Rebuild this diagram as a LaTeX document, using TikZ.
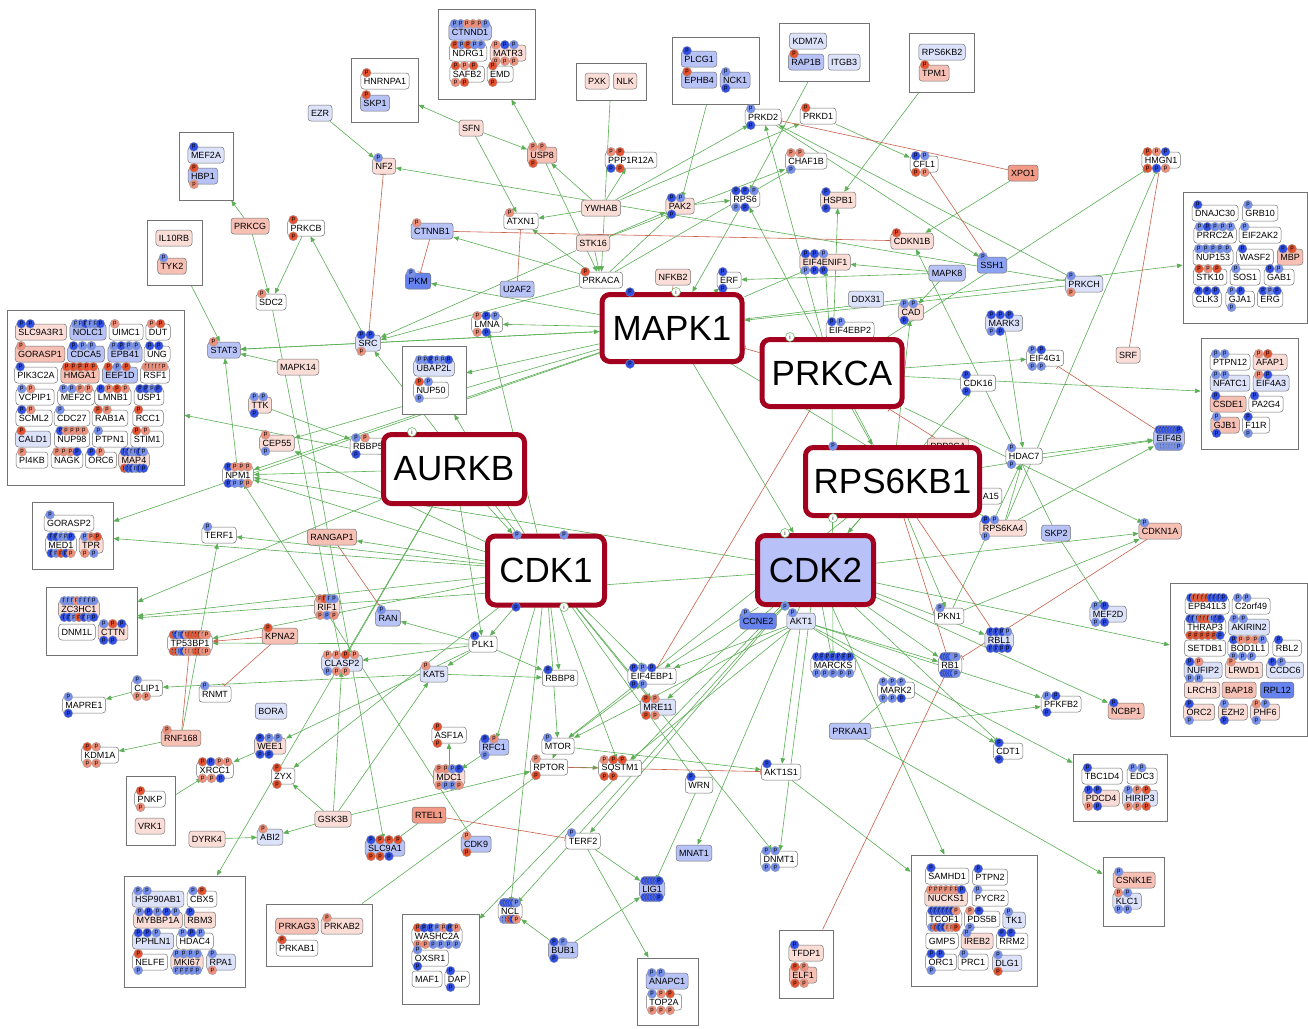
\documentclass[tikz,border=0pt]{standalone}
\usepackage{fontspec}
\setmainfont{Liberation Sans}
\usetikzlibrary{arrows.meta,backgrounds,calc}
\definecolor{pl}{HTML}{FBDDD7}
\definecolor{pk}{HTML}{F7C0B5}
\definecolor{sa}{HTML}{F29A86}
\definecolor{ll}{HTML}{DDE2FB}
\definecolor{lm}{HTML}{B7C2F6}
\definecolor{bl}{HTML}{6582EE}
\definecolor{bm}{HTML}{8CA2F2}
\definecolor{hubred}{HTML}{A3001F}
\definecolor{cdktwo}{HTML}{B8C2F8}
\definecolor{egreen}{HTML}{5BAF55}
\definecolor{ered}{HTML}{C9604A}
\definecolor{pB}{HTML}{2F4FE6}
\definecolor{pb}{HTML}{7590EE}
\definecolor{pR}{HTML}{E8532F}
\definecolor{pr}{HTML}{F0907A}
\tikzset{
 smallnode/.style={draw=black!55,line width=0.5pt,rounded corners=3pt,inner xsep=3pt,inner ysep=0pt,minimum height=16pt,font=\fontsize{9}{10}\selectfont},
 grpbox/.style={draw=black!55,line width=0.9pt,fill=white,inner sep=0pt},
 psite/.style={circle,inner sep=0pt,minimum size=9pt,draw=black!40,line width=0.3pt,font=\fontsize{6}{6}\selectfont},
 isite/.style={circle,inner sep=0pt,minimum size=9pt,draw=egreen,fill=white,line width=0.5pt,font=\fontsize{6}{6}\selectfont},
 hubnode/.style={draw=hubred,line width=5pt,rounded corners=8pt,fill=white,inner sep=0pt,font=\fontsize{35}{36}\selectfont},
 garr/.style={draw=egreen,line width=0.6pt,-{Triangle[length=5.5pt,width=4.5pt]}},
 rarr/.style={draw=ered,line width=0.6pt,-{Triangle[length=5.5pt,width=4.5pt]}},
 rinh/.style={draw=ered,line width=0.6pt,-{Bar[width=6pt]}}
}
\newdimen\pxa \newdimen\pxb \newdimen\pya
\newcommand\PP[3]{%
  \pgfextractx{\pxa}{\pgfpointanchor{#1}{#3 west}}%
  \pgfextractx{\pxb}{\pgfpointanchor{#1}{#3 east}}%
  \pgfextracty{\pya}{\pgfpointanchor{#1}{#3 west}}%
  \xdef\pn{0}\foreach \c [count=\i] in {#2}{\xdef\pn{\i}}%
  \pgfmathsetmacro\psp{min(9,(\pxb-\pxa-12)/max(\pn-1,1))}%
  \foreach \c [count=\i] in {#2}{\node[psite,fill=\c] at ({\the\pxa+6pt+(\i-1)*\psp*1pt},{\the\pya}) {p};}%
}
\newcommand\nd[6]{\node[smallnode,fill=#4] (#1) at (#2,#3) {#1};\ifx&#5&\else\PP{#1}{#5}{north}\fi\ifx&#6&\else\PP{#1}{#6}{south}\fi}
\newcommand\grp[5]{\node[grpbox,minimum width={(#4-#2)*1pt},minimum height={(#5-#3)*1pt}] (#1) at ({(#2+#4)/2},{(#3+#5)/2}) {};}
\begin{document}
\begin{tikzpicture}[x=1pt,y=-1pt]
\useasboundingbox (0,0) rectangle (1308,1028);
% group boxes
\grp{gMEF2A}{179}{132}{233}{200}
\grp{gIL10RB}{147}{220}{202}{285}
\grp{gSLC}{7}{310}{184}{485}
\grp{gGORASP2}{32}{502}{113}{569}
\grp{gZC3HC1}{46}{587}{137}{655}
\grp{gPNKP}{126}{776}{175}{845}
\grp{gHSP}{124}{876}{245}{987}
\grp{gPRKAG}{266}{904}{372}{966}
\grp{gHNRNPA1}{351}{58}{418}{122}
\grp{gCTNND1}{438}{9}{535}{99}
\grp{gPXK}{576}{63}{646}{100}
\grp{gUBAP2L}{402}{346}{466}{414}
\grp{gPLCG1}{672}{37}{759}{104}
\grp{gKDM7A}{779}{23}{869}{81}
\grp{gRPS6KB2}{909}{33}{974}{92}
\grp{gDNAJC}{1183}{192}{1307}{323}
\grp{gPTPN12}{1201}{338}{1298}{449}
\grp{gEPB}{1170}{583}{1307}{736}
\grp{gTBC}{1073}{754}{1167}{821}
\grp{gCSNK}{1103}{857}{1164}{926}
\grp{gSAM}{911}{855}{1037}{986}
\grp{gWASH}{402}{914}{479}{1004}
\grp{gANAPC}{637}{958}{698}{1025}
\grp{gTFDP}{779}{930}{833}{998}
% top-left
\nd{EZR}{320}{113}{ll}{}{}
\nd{MEF2A}{206}{155}{ll}{pB}{}
\nd{HBP1}{203}{176}{lm}{pR}{pr}
\nd{PRKCG}{250}{226}{pk}{}{}
\nd{PRKCB}{306}{228}{white}{pR}{pR}
\nd{IL10RB}{174}{238}{pl}{}{}
\nd{TYK2}{172}{266}{pk}{pb}{}
\nd{SDC2}{271}{302}{white}{pr}{}
\nd{SLC9A3R1}{41}{332}{pl}{pB,pB}{}
\nd{NOLC1}{88}{332}{lm}{pb,pb,pB,pb,pb,pB}{}
\nd{UIMC1}{126}{332}{white}{pr}{}
\nd{DUT}{158}{332}{white}{pr,pR}{}
\nd{GORASP1}{40}{354}{pk}{pr}{}
\nd{CDCA5}{86}{354}{lm}{pB,pb,pb}{}
\nd{EPB41}{125}{354}{lm}{pb,pB,pb,pb}{}
\nd{UNG}{157}{354}{white}{pB,pB}{}
\nd{PIK3C2A}{36}{375}{white}{pB}{}
\nd{HMGA1}{80}{375}{pk}{pR,pR,pR,pR,pR}{}
\nd{EEF1D}{120}{375}{lm}{pR,pb,pR}{}
\nd{RSF1}{155}{375}{white}{pr,pr,pr,pr,pr,pr}{}
\nd{VCPIP1}{35}{397}{white}{pb,pr}{}
\nd{MEF2C}{76}{397}{white}{pb,pb,pr,pr}{}
\nd{LMNB1}{113}{397}{white}{pB,pr,pR,pr}{}
\nd{USP1}{149}{397}{white}{pB,pB,pb,pB}{}
\nd{SCML2}{34}{418}{white}{pB,pr}{}
\nd{CDC27}{72}{418}{white}{pb}{}
\nd{RAB1A}{110}{418}{white}{pR,pr}{}
\nd{RCC1}{148}{418}{white}{pR}{}
\nd{CALD1}{33}{439}{ll}{pR}{}
\nd{NUP98}{72}{439}{white}{pB,pr,pr,pr,pr}{}
\nd{PTPN1}{110}{439}{white}{pb}{}
\nd{STIM1}{147}{439}{white}{pR,pr}{}
\nd{PI4KB}{32}{460}{white}{pr}{}
\nd{NAGK}{67}{460}{white}{pr,pr,pr,pB}{}
\nd{ORC6}{101}{460}{white}{pB,pr}{}
\nd{MAP4}{134}{460}{pl}{pB,pB,pb,pb,pB,pb}{pR,pB,pB,pb,pB,pB}
\nd{STAT3}{224}{350}{lm}{pr}{}
\nd{MAPK14}{298}{367}{pl}{}{}
\nd{TTK}{260}{405}{pl}{pb,pb}{pB}
\nd{CEP55}{277}{443}{pl}{pr}{pb}
\nd{NPM1}{238}{475}{white}{pB,pr,pr,pr}{pB,pb,pb,pr}
\nd{GORASP2}{69}{523}{white}{pb}{}
\nd{MED1}{61}{545}{white}{pB,pB,pb,pb,pB}{pB,pb,pR,pB,pr}
\nd{TPR}{91}{545}{pl}{pb,pr,pR}{pr,pb}
\nd{TERF1}{219}{535}{white}{pb}{}
\nd{RANGAP1}{332}{537}{pk}{}{}
\nd{ZC3HC1}{79}{609}{pl}{pb,pb,pb,pr,pb,pb,pb,pb}{pB,pB,pb,pR,pB,pb,pB}
\nd{DNM1L}{77}{632}{white}{}{}
\nd{CTTN}{113}{632}{pl}{pb,pR,pB}{pB,pB}
\nd{TP53BP1}{190}{643}{white}{pR,pB,pb,pB,pr,pR,pR,pR,pR,pr,pr}{pR,pR,pb,pB,pr,pr,pr,pR,pR,pr,pr}
\nd{KPNA2}{280}{636}{pk}{pR}{}
\nd{RIF1}{327}{607}{pl}{pr,pR,pb,pb}{pr,pb,pr}
\nd{CLIP1}{147}{688}{white}{pb}{pr,pr}
\nd{MAPRE1}{84}{705}{white}{pb}{pB}
\nd{RNMT}{215}{694}{white}{pb}{}
\nd{BORA}{271}{711}{ll}{}{}
\nd{RNF168}{181}{738}{pk}{pr}{}
\nd{KDM1A}{100}{755}{white}{pR,pr}{pr,pr}
\nd{WEE1}{270}{746}{pl}{pB,pb,pb}{pB,pB}
\nd{XRCC1}{215}{770}{white}{pR,pB,pr,pr}{pr,pr,pB}
\nd{ZYX}{283}{776}{white}{pR}{pR}
\nd{PNKP}{150}{799}{white}{pR}{pr}
\nd{VRK1}{150}{826}{pl}{}{}
\nd{DYRK4}{207}{839}{pl}{}{}
\nd{ABI2}{270}{837}{ll}{pr}{}
\nd{GSK3B}{333}{819}{pl}{}{}
\nd{HSP90AB1}{158}{899}{ll}{pb,pb}{}
\nd{CBX5}{202}{899}{white}{pb,pR}{}
\nd{MYBBP1A}{158}{920}{pl}{pb,pB,pb,pB,pb}{}
\nd{RBM3}{200}{920}{pl}{pB}{}
\nd{PPHLN1}{153}{941}{ll}{pB,pB,pb}{}
\nd{HDAC4}{195}{941}{white}{pb,pB,pb}{}
\nd{NELFE}{150}{962}{white}{pR}{pb}
\nd{MKI67}{187}{962}{pl}{pb,pb,pb,pb}{pb,pb,pb,pb,pb}
\nd{RPA1}{221}{962}{ll}{pb}{pr}
\nd{PRKAG3}{297}{926}{pk}{}{}
\nd{PRKAB2}{342}{926}{pl}{pr}{}
\nd{PRKAB1}{297}{948}{white}{pR}{}
% center top
\nd{HNRNPA1}{385}{81}{white}{pR}{}
\nd{SKP1}{375}{103}{lm}{pR}{}
\nd{CTNND1}{470}{32}{lm}{pb,pb,pr,pr,pr,pb}{}
\nd{NDRG1}{468}{53}{white}{pR,pb,pR,pb,pb}{}
\nd{MATR3}{508}{53}{pl}{pr,pB,pb}{pr,pr,pr}
\nd{SAFB2}{467}{74}{white}{pR,pr,pR}{pr,pR}
\nd{EMD}{500}{74}{white}{pR}{pR}
\nd{PXK}{597}{81}{pl}{}{}
\nd{NLK}{625}{81}{pl}{}{}
\nd{SFN}{471}{128}{pl}{}{}
\nd{NF2}{384}{166}{pl}{pb}{}
\nd{USP8}{542}{155}{pk}{pr,pr}{pR}
\nd{PPP1R12A}{631}{160}{white}{pr,pR}{pB,pR}
\nd{YWHAB}{601}{208}{pl}{}{}
\nd{ATXN1}{521}{221}{white}{pr}{}
\nd{CTNNB1}{432}{231}{lm}{pr}{}
\nd{STK16}{593}{243}{pl}{}{}
\nd{PKM}{418}{281}{bl}{pb}{}
\nd{U2AF2}{517}{289}{lm}{}{}
\nd{PRKACA}{601}{280}{white}{pR}{}
\nd{LMNA}{487}{324}{white}{pr,pB,pb}{pr,pB}
\nd{SRC}{368}{343}{ll}{pB,pB}{pr}
\nd{UBAP2L}{434}{368}{ll}{pb,pb,pB,pb,pb,pB}{}
\nd{NUP50}{431}{390}{white}{pR,pb}{pb}
\nd{RBBP5}{368}{446}{white}{pb,pr}{pB}
% top right
\nd{PLCG1}{699}{59}{lm}{pB}{}
\nd{EPHB4}{699}{80}{lm}{pR}{}
\nd{NCK1}{735}{80}{lm}{pb}{pB}
\nd{KDM7A}{808}{41}{ll}{}{}
\nd{RAP1B}{806}{62}{lm}{pR}{}
\nd{ITGB3}{844}{62}{ll}{}{}
\nd{RPS6KB2}{942}{52}{ll}{}{}
\nd{TPM1}{934}{73}{pk}{pR}{}
\nd{PRKD2}{763}{117}{white}{pb}{pB}
\nd{PRKD1}{818}{116}{white}{pR}{}
\nd{CHAF1B}{806}{161}{white}{pr,pr}{pb}
\nd{CFL1}{924}{164}{white}{pB,pb}{pR,pr}
\nd{PAK2}{680}{206}{pl}{pB,pb}{pB}
\nd{RPS6}{745}{199}{white}{pB,pB,pb}{pb,pB}
\nd{HSPB1}{838}{200}{pl}{pB}{pB}
\nd{CDKN1B}{912}{241}{pl}{pR}{}
\nd{EIF4ENIF1}{825}{262}{pl}{pB,pB,pb}{pb,pB,pB}
\nd{NFKB2}{673}{277}{pl}{}{}
\nd{ERF}{729}{280}{white}{pB}{pB}
\nd{MAPK8}{947}{273}{lm}{}{}
\nd{DDX31}{866}{299}{ll}{}{}
\nd{CAD}{911}{312}{pl}{pb,pb}{pB}
\nd{EIF4EBP2}{850}{330}{white}{pB,pb}{}
\nd{XPO1}{1023}{173}{sa}{}{}
\nd{HMGN1}{1161}{160}{white}{pR,pr,pB}{pR,pB,pr}
\nd{SSH1}{992}{265}{bm}{pb}{}
\nd{PRKCH}{1084}{284}{ll}{pb}{pr}
\nd{MARK3}{1004}{323}{ll}{pB,pB,pB}{pb,pB}
\nd{DNAJC30}{1215}{213}{white}{pB}{}
\nd{GRB10}{1260}{213}{white}{pb}{}
\nd{PRRC2A}{1215}{235}{white}{pb,pB,pb,pb,pb}{}
\nd{EIF2AK2}{1260}{235}{white}{pb}{}
\nd{NUP153}{1213}{257}{white}{pb,pb,pb,pb,pb}{}
\nd{WASF2}{1255}{257}{white}{pB}{}
\nd{MBP}{1290}{257}{pk}{pB,pR}{}
\nd{STK10}{1210}{277}{white}{pR,pr,pR}{}
\nd{SOS1}{1245}{277}{white}{pb}{}
\nd{GAB1}{1279}{277}{white}{pB,pb}{}
\nd{CLK3}{1207}{299}{white}{pB,pB,pB}{}
\nd{GJA1}{1240}{299}{white}{pb,pB}{pb}
\nd{ERG}{1270}{299}{white}{pB,pb,pB}{}
% right middle
\nd{EIF4G1}{1045}{358}{white}{pb,pB}{pb,pb}
\nd{SRF}{1128}{355}{pl}{}{}
\nd{CDK16}{978}{383}{white}{pB}{pB}
\nd{PTPN12}{1230}{362}{white}{pb,pb}{}
\nd{AFAP1}{1270}{362}{pl}{pr,pR}{}
\nd{NFATC1}{1230}{383}{ll}{pb,pb}{}
\nd{EIF4A3}{1271}{383}{ll}{pr,pB}{}
\nd{CSDE1}{1228}{404}{pk}{pB}{}
\nd{PA2G4}{1266}{404}{white}{pB}{}
\nd{GJB1}{1225}{425}{pk}{pb}{pB}
\nd{F11R}{1256}{425}{white}{pB}{pb}
\nd{EIF4B}{1169}{438}{lm}{pB,pB,pB,pB,pB,pB,pB,pB}{pb,pb,pb,pb,pb,pb,pb,pb}
\nd{HDAC7}{1024}{456}{white}{pb}{pb}
\nd{RPS6KA4}{1003}{528}{pl}{pB,pb}{pb}
\nd{SKP2}{1056}{533}{lm}{}{}
\nd{CDKN1A}{1160}{531}{pk}{pb}{}
\nd{MEF2D}{1108}{614}{ll}{pb,pB}{pb,pB}
\nd{RBL1}{999}{640}{ll}{pB,pB,pB,pb}{pB,pB,pB,pB}
\nd{PKN1}{949}{616}{white}{pb}{}
\nd{RB1}{950}{665}{white}{pB,pB,pB,pB,pb,pb}{pB,pB,pB,pB,pB,pb}
\nd{CCNE2}{758}{621}{bl}{pb}{}
\nd{AKT1}{801}{621}{ll}{pb}{}
\nd{MARCKS}{833}{665}{white}{pB,pB,pB,pB,pB,pB,pB}{pb,pb,pb,pb,pb}
\nd{MARK2}{896}{690}{white}{pb,pb,pb}{pb,pb,pB}
\nd{PRKAA1}{850}{731}{lm}{}{}
\nd{EPB41L3}{1207}{606}{white}{pB,pR,pR,pR,pR,pB,pB,pB,pB}{}
\nd{C2orf49}{1251}{606}{white}{pb,pb}{}
\nd{THRAP3}{1205}{627}{white}{pB,pB,pb,pR,pR,pR,pb,pB,pB}{pR,pR,pR,pR,pR,pB}
\nd{AKIRIN2}{1249}{627}{ll}{pb,pb}{}
\nd{SETDB1}{1205}{648}{white}{}{}
\nd{BOD1L1}{1248}{648}{white}{pB,pr,pr,pr,pb}{pb,pb,pb}
\nd{RBL2}{1287}{648}{white}{pB}{}
\nd{NUFIP2}{1203}{670}{ll}{pB,pr}{pb,pb}
\nd{LRWD1}{1244}{670}{pl}{pr}{}
\nd{CCDC6}{1285}{670}{ll}{pB,pb}{}
\nd{LRCH3}{1202}{690}{pl}{}{}
\nd{BAP18}{1239}{690}{pk}{}{}
\nd{RPL12}{1277}{690}{bl}{}{}
\nd{ORC2}{1199}{712}{pl}{pB}{pb}
\nd{EZH2}{1233}{712}{pl}{pb}{pB}
\nd{PHF6}{1265}{712}{pl}{pr,pb}{pb}
\nd{PFKFB2}{1061}{704}{white}{pb,pB}{pB}
\nd{NCBP1}{1126}{711}{pk}{pB}{}
\nd{CDT1}{1008}{751}{white}{pB}{pB}
\nd{TBC1D4}{1102}{776}{white}{pB}{}
\nd{EDC3}{1142}{776}{white}{pb,pb}{}
\nd{PDCD4}{1101}{798}{pl}{pB,pB}{pr,pB}
\nd{HIRIP3}{1140}{798}{ll}{pb,pr,pR}{pr,pr,pR}
\nd{CSNK1E}{1134}{880}{pk}{pb}{}
\nd{KLC1}{1127}{901}{ll}{pr,pb}{pb,pb}
\nd{SAMHD1}{947}{876}{white}{pB}{}
\nd{PTPN2}{990}{877}{white}{pB}{}
\nd{NUCKS1}{946}{898}{pl}{pr,pr,pr,pr,pr,pr,pB}{}
\nd{PYCR2}{990}{898}{white}{pb}{}
\nd{TCOF1}{944}{919}{white}{pB,pB,pB,pB,pB,pB,pr}{pb,pR,pB,pB,pr,pr,pR}
\nd{PDS5B}{982}{919}{white}{pr,pB}{pb}
\nd{TK1}{1014}{920}{ll}{pb}{}
\nd{GMPS}{942}{941}{white}{}{}
\nd{IREB2}{977}{941}{pl}{pb}{}
\nd{RRM2}{1012}{941}{white}{pB,pB}{}
\nd{ORC1}{941}{962}{white}{pB,pB}{pb}
\nd{PRC1}{973}{962}{white}{pb}{}
\nd{DLG1}{1007}{963}{ll}{pb}{pR}
% bottom center
\nd{ASF1A}{449}{735}{white}{pR}{pR}
\nd{MDC1}{449}{777}{pl}{pr,pr,pb,pB}{pr,pb,pb,pr}
\nd{RFC1}{494}{747}{lm}{pB,pr}{pb}
\nd{MTOR}{558}{746}{white}{pb}{}
\nd{RPTOR}{549}{767}{white}{pr}{pR}
\nd{SQSTM1}{620}{768}{white}{pr,pR,pR}{pR,pR}
\nd{RTEL1}{429}{815}{sa}{}{}
\nd{SLC9A1}{385}{848}{lm}{pB,pR,pR,pR}{pR,pR,pB}
\nd{CDK9}{476}{844}{lm}{pr}{pR}
\nd{TERF2}{583}{841}{white}{pb}{}
\nd{NCL}{510}{911}{white}{pB,pB,pB,pB,pB,pb}{pb,pb,pR,pB,pr}
\nd{BUB1}{563}{950}{lm}{pB,pb}{pB}
\nd{LIG1}{652}{889}{lm}{pB,pB,pB,pB,pB,pB}{pB,pB,pB,pB,pB,pB}
\nd{WASHC2A}{437}{936}{white}{pR,pB,pB,pb,pr,pB,pr}{pr,pr,pb,pb,pb,pb}
\nd{OXSR1}{430}{958}{white}{pb}{pB}
\nd{MAF1}{427}{979}{white}{}{}
\nd{DAP}{457}{979}{white}{pB}{pB}
\nd{ANAPC1}{667}{981}{lm}{pb,pb}{}
\nd{TOP2A}{664}{1002}{white}{pb,pr,pR}{pr,pr,pr}
\nd{TFDP1}{806}{953}{pl}{pB}{}
\nd{ELF1}{803}{975}{pk}{pR,pr}{pR,pr}
\nd{EIF4EBP1}{652}{676}{white}{pB,pb,pB}{pB,pb}
\nd{MRE11}{658}{707}{ll}{pR,pr}{pR,pr}
\nd{WRN}{699}{785}{white}{pB}{}
\nd{MNAT1}{694}{853}{lm}{}{}
\nd{AKT1S1}{781}{772}{white}{pB}{}
\nd{DNMT1}{779}{859}{white}{pb,pb}{pb,pb}
\nd{RBBP8}{560}{678}{white}{pB}{}
\nd{PLK1}{483}{644}{white}{pB}{}
\nd{KAT5}{434}{674}{ll}{pr}{}
\nd{CLASP2}{342}{663}{ll}{pr,pr,pR,pr}{pb,pr,pr}
\nd{RAN}{388}{618}{lm}{pb}{}
% partly hidden nodes
\nd{PPP2CA}{948}{446}{pl}{}{}
\node[smallnode,fill=white,anchor=east,text width=34pt,align=right] (A15) at (1002,496) {A15};
% hubs
\node[hubnode,minimum width=140pt,minimum height=67pt] (MAPK1) at (672,328) {MAPK1};
\node[hubnode,minimum width=140pt,minimum height=67pt] (PRKCA) at (832,373) {PRKCA};
\node[hubnode,minimum width=141pt,minimum height=69pt] (AURKB) at (454,469) {AURKB};
\node[hubnode,minimum width=174pt,minimum height=68pt] (RPS6KB1) at (892.5,481.5) {RPS6KB1};
\node[hubnode,minimum width=117pt,minimum height=69pt] (CDK1) at (546,570.5) {CDK1};
\node[hubnode,fill=cdktwo,minimum width=116pt,minimum height=69pt] (CDK2) at (815.5,570) {CDK2};
\node[psite,fill=pB] at (630,292) {p};
\node[isite] at (676,292) {i};
\node[psite,fill=pB] at (630,364) {p};
\node[isite] at (790,337) {i};
\node[isite] at (412,432) {i};
\node[psite,fill=pb] at (517,535) {p};
\node[psite,fill=pb] at (564,535) {p};
\node[psite,fill=pB] at (516,607) {p};
\node[isite] at (564,607) {i};
\node[isite] at (785,533) {i};
\node[psite,fill=pb,draw=egreen] at (785,606) {p};
\node[psite,fill=pb] at (833,446) {p};
\node[isite] at (833,518) {i};
% edges
\begin{pgfonlayer}{background}
\fill[white] (0,0) rectangle (1308,1028);
\foreach \a/\b in {SFN/gHNRNPA1, SFN/USP8, SFN/ATXN1, EZR/NF2, USP8/gCTNND1, PRKCH/NF2, YWHAB/USP8, YWHAB/ATXN1, YWHAB/PPP1R12A, gPXK/PRKACA, STK16/PRKACA, USP8/PRKACA, PRKACA/ATXN1, PRKACA/CTNNB1, MAPK1/PKM, STK16/SRC, PRKACA/SRC, MAPK1/LMNA, SRC/MAPK1, gPLCG1/PAK2, gRPS6KB2/HSPB1, PRKD1/CFL1, PRKD2/SSH1, XPO1/CDKN1B, PRKCA/PRKD2, PRKCH/PRKD2, gKDM7A/RPS6, PRKACA/PAK2, STK16/PAK2, PAK2/RPS6, YWHAB/PRKD1, STK16/CHAF1B, PRKACA/CHAF1B, YWHAB/PRKD2, RPS6/MAPK1, MAPK1/ERF, MAPK1/EIF4ENIF1, MAPK8/EIF4ENIF1, MAPK8/ERF, SKP2/CDKN1B, MAPK8/CAD, MARK3/HDAC7, PRKCA/HSPB1, PRKCA/EIF4ENIF1, RPS6KB1/CAD, RPS6KB1/RPS6, PRKCH/MAPK1, MAPK1/STAT3, MAPK14/STAT3, SRC/STAT3, MAPK1/gUBAP2L, MAPK1/NPM1, CDK9/NPM1, NPM1/STAT3, MAPK1/gGORASP2, CDK1/TERF1, CDK1/gGORASP2, RNF168/TERF1, AURKB/gZC3HC1, CDK1/gZC3HC1, CDK2/gZC3HC1, CDK1/TP53BP1, PLK1/TP53BP1, KAT5/CLIP1, CLIP1/MAPRE1, RNF168/KDM1A, WEE1/XRCC1, gPNKP/XRCC1, DYRK4/ABI2, GSK3B/ABI2, GSK3B/ZYX, PLK1/WEE1, CDK1/ZYX, AURKB/gHSP, MAPK14/SLC9A1, GSK3B/CLASP2, GSK3B/KAT5, GSK3B/RPTOR, MDC1/ASF1A, RFC1/MDC1, CDK1/RFC1, MTOR/RPTOR, MTOR/AKT1S1, AKT1/MTOR, RPS6KB1/MTOR, MTOR/EIF4EBP1, TERF2/LIG1, TERF2/gANAPC, BUB1/NCL, BUB1/LIG1, CDK1/NCL, CDK2/NCL, CDK2/gWASH, gPRKAG/RPTOR, RTEL1/SLC9A1, AURKB/CDK1, MAPK1/CDK2, PRKCA/RPS6KB1, RPS6KB1/CDK2, CDK1/LMNA, CDK1/gUBAP2L, CDK1/SRC, TTK/RBBP5, MAPK1/CEP55, CDK1/CEP55, AURKB/NPM1, CDK1/NPM1, CDK2/NPM1, AURKB/gSLC, CDK1/RANGAP1, PLK1/RAN, AURKB/PLK1, CDK1/PLK1, PLK1/CLASP2, PLK1/KAT5, PLK1/RBBP8, KAT5/RBBP8, AURKB/CLASP2, CDK1/EIF4EBP1, CDK2/EIF4EBP1, CDK1/SQSTM1, AKT1/AKT1S1, CDK2/DNMT1, CDK1/DNMT1, CDK2/RB1, CDK2/RBL1, CDK2/CDT1, AKT1/PFKFB2, CDK2/NCBP1, AKT1/gTBC, PRKAA1/PFKFB2, PRKAA1/gCSNK, AKT1S1/gSAM, CDK2/gSAM, CDK2/gEPB, RPS6KB1/EIF4B, RPS6KA4/EIF4B, HDAC7/EIF4B, CDK2/CDK16, PRKCA/gPTPN12, MAPK1/gDNAJC, PRKCA/HMGN1, RPS6KA4/HMGN1, RPS6KA4/HDAC7, SKP2/MEF2D, PKN1/CDKN1A, PRKCA/CDKN1A, AKT1/RB1, PRKCA/MARCKS, CDK2/MARCKS, PRKAA1/MARK2, PRKCA/EIF4G1, RPTOR/SQSTM1, CDK1/RBBP8, CDK1/MRE11, CDK2/MRE11, CDK1/WRN, WRN/LIG1, CDK2/MNAT1, CDK1/MTOR, AKT1/SQSTM1, CDK2/TERF2, PKN1/HDAC7, RPS6KB1/PKN1, CDK2/CDKN1A, MAPK1/RPS6KA4, AKT1/EIF4EBP1, AKT1/CDT1, gIL10RB/STAT3, PRKCG/gMEF2A, PRKCG/SDC2, PRKCB/SDC2, SRC/PRKCB}
  \draw[garr] (\a) -- (\b);
\foreach \a/\b in {SRC/NF2, CTNNB1/PKM, CTNNB1/CDKN1B, U2AF2/ATXN1, XPO1/PRKD2, SSH1/CFL1, SRF/HMGN1, EIF4B/EIF4G1, RPS6KB1/RB1, RPS6KB1/RBL1, PPP2CA/PRKCA, PRKCA/EIF4EBP1, PRKCA/MAPK1, RTEL1/TERF2, RPTOR/AKT1S1, KPNA2/RNMT, RNF168/TP53BP1, RANGAP1/RAN, gTFDP/RB1, CDKN1A/RB1, NFKB2/MAPK1}
  \draw[rinh] (\a) -- (\b);
\draw[rarr] (KPNA2) -- (TP53BP1);
\draw[egreen,line width=0.6pt] (SDC2) -- (CLASP2);
\end{pgfonlayer}
\end{tikzpicture}
\end{document}
